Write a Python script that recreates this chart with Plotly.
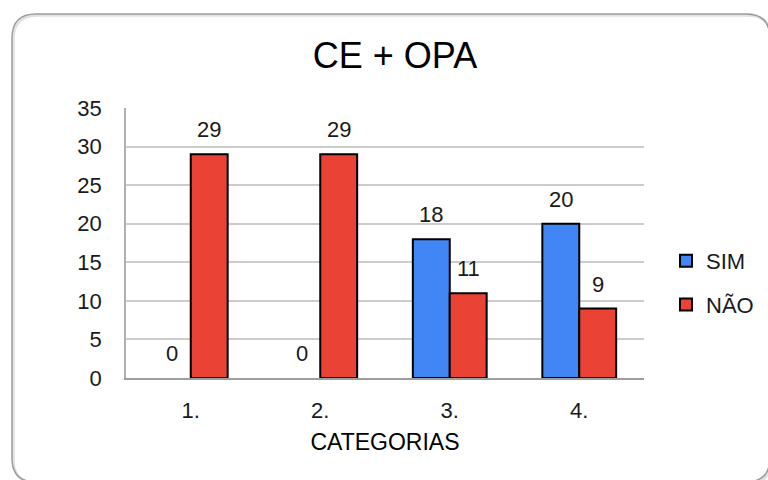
import plotly.graph_objects as go

# Chart data
categories = ["1.", "2.", "3.", "4."]
sim_values = [0, 0, 18, 20]
nao_values = [29, 29, 11, 9]
series_names = ["SIM", "NÃO"]
series_colors = ["#4285F4", "#EA4335"]
y_ticks = [0, 5, 10, 15, 20, 25, 30, 35]

W, H = 768, 480
L, R, T, B = 126, 644, 108, 378  # plot area in pixels
FONT = "Liberation Sans, Arial, sans-serif"


def px(x):
    return (x - L) / (R - L)


def py(y):
    return (B - y) / (B - T)


fig = go.Figure()
for name, vals, color in zip(series_names, [sim_values, nao_values], series_colors):
    # list non-zero bars first so the legend swatch keeps its outline;
    # the axis order is fixed by categoryarray below
    order = sorted(range(len(vals)), key=lambda i: vals[i] == 0)
    fig.add_trace(go.Bar(
        x=[categories[i] for i in order], y=[vals[i] for i in order],
        name=name, legendgroup=name,
        marker=dict(color=color,
                    line=dict(color="#000000",
                              width=[2 if vals[i] > 0 else 0 for i in order])),
    ))

# value labels above each bar (x given as category index)
bar_half = 18.5
for vals, shift in [(sim_values, -bar_half), (nao_values, bar_half)]:
    for i, v in enumerate(vals):
        fig.add_annotation(
            x=i, y=v, text=str(v), showarrow=False, xshift=shift, yshift=10,
            yanchor="bottom", font=dict(family=FONT, size=22, color="#1a1a1a"),
        )


# rounded outer frame
def rounded_path(x0, y0, x1, y1, r):
    return (
        f"M {px(x0 + r)},{py(y0)} L {px(x1 - r)},{py(y0)} "
        f"Q {px(x1)},{py(y0)} {px(x1)},{py(y0 + r)} "
        f"L {px(x1)},{py(y1 - r)} Q {px(x1)},{py(y1)} {px(x1 - r)},{py(y1)} "
        f"L {px(x0 + r)},{py(y1)} Q {px(x0)},{py(y1)} {px(x0)},{py(y1 - r)} "
        f"L {px(x0)},{py(y0 + r)} Q {px(x0)},{py(y0)} {px(x0 + r)},{py(y0)} Z"
    )


fig.add_shape(type="path", xref="paper", yref="paper", layer="below",
              path=rounded_path(13.5, 15.5, 771.5, 483.5, 24),
              line=dict(color="#e2e2e2", width=2.5))
fig.add_shape(type="path", xref="paper", yref="paper", layer="below",
              path=rounded_path(12, 14, 770, 482, 24),
              line=dict(color="#9c9c9c", width=1.5))

fig.update_layout(
    width=W, height=H,
    margin=dict(l=L, r=W - R, t=T, b=H - B, pad=0, autoexpand=False),
    paper_bgcolor="#ffffff", plot_bgcolor="#ffffff",
    barmode="group", bargap=0.43, bargroupgap=0,
    font=dict(family=FONT, size=22, color="#1a1a1a"),
    title=dict(text="CE + OPA", x=395 / W, xanchor="center", xref="container",
               y=1 - 55 / H, yanchor="middle", yref="container",
               font=dict(family=FONT, size=36, color="#000000")),
    showlegend=True,
    legend=dict(x=px(666), xanchor="left", y=py(283), yanchor="middle",
                font=dict(family=FONT, size=22, color="#1a1a1a"),
                tracegroupgap=12, itemwidth=30, bgcolor="rgba(0,0,0,0)"),
    xaxis=dict(
        type="category", categoryorder="array", categoryarray=categories,
        range=[-0.5, 3.5], showgrid=False, showline=True,
        linecolor="#9e9e9e", linewidth=1.5, ticks="", ticklabelstandoff=12,
        tickfont=dict(family=FONT, size=22, color="#1a1a1a"),
        title=dict(text="CATEGORIAS", standoff=12,
                   font=dict(family=FONT, size=23, color="#000000")),
    ),
    yaxis=dict(
        range=[0, 35], tickvals=y_ticks, showgrid=True, gridcolor="#cccccc",
        gridwidth=1.5, showline=True, linecolor="#b0b0b0", linewidth=1.5,
        zeroline=False, ticks="", ticklabelstandoff=18,
        tickfont=dict(family=FONT, size=22, color="#1a1a1a"),
    ),
)

fig.write_html("out.html")
